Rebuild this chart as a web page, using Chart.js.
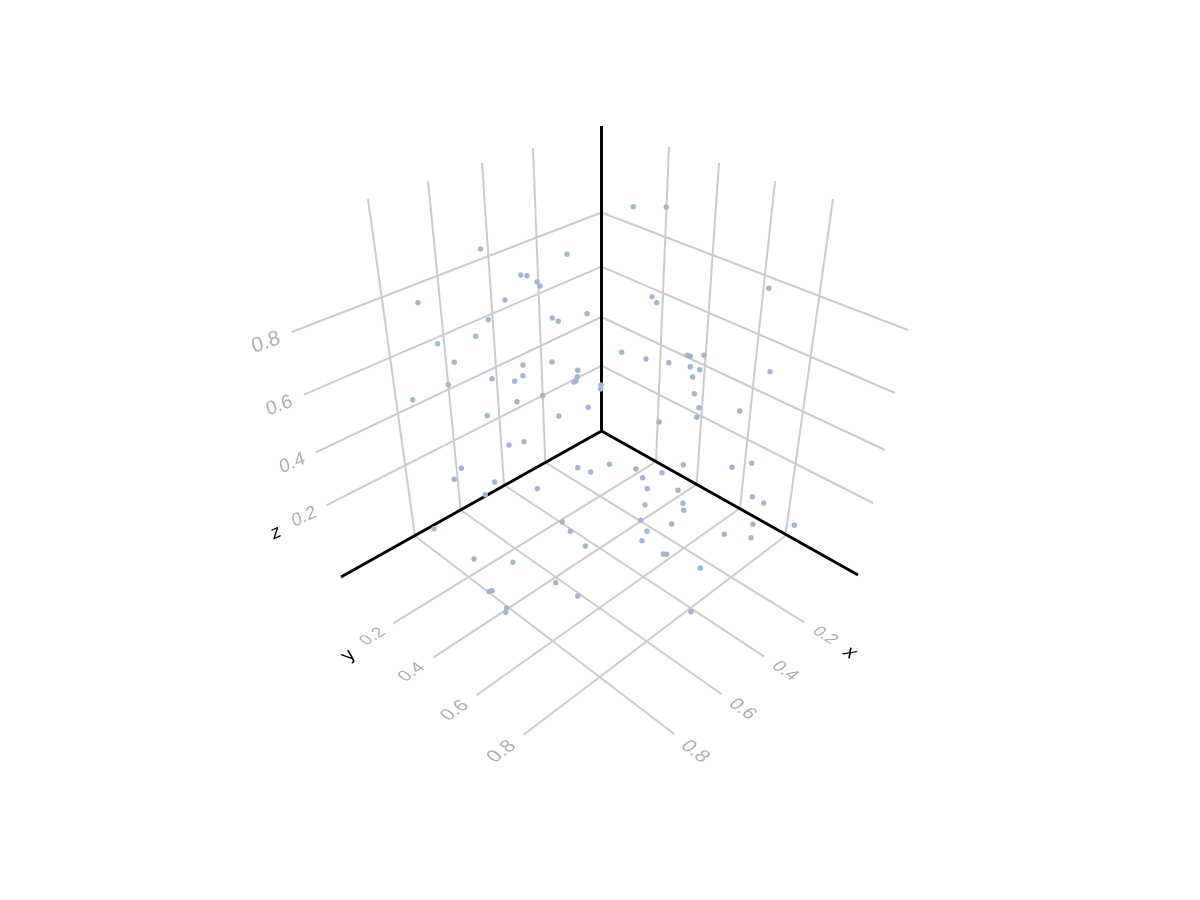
<!DOCTYPE html>
<html>
<head>
<meta charset="utf-8">
<title>3D scatter</title>
<script src="https://cdn.jsdelivr.net/npm/chart.js@4"></script>
<style>
    html, body { margin: 0; padding: 0; background: #fff; }
    canvas { display: block; }
</style>
</head>
<body>
<canvas id="chart" width="1200" height="900"></canvas>
<script>
// values, in the projected plane of the 3D view
var pointX = [480.7, 567, 520.7, 527, 537, 540, 418, 505, 488.3, 552.3, 558.3, 587, 475.7, 437.7, 454.3, 523, 552, 523, 514.7, 492,
    448.3, 577.7, 577.3, 576, 574, 601, 600.7, 542.7, 412.7, 517, 588.3, 487.3, 559, 524, 509,
    633.3, 666.3, 768.7, 652, 656.7, 621.7, 646, 668.7, 687.3, 690.3, 704, 690.3, 699.7, 692.7, 770, 694.3, 699, 739.7, 696.7, 659,
    461.3, 454.3, 494.7, 485.3, 537.3, 577.7, 590.7, 609.5, 434, 562.3, 570.3, 585.3, 474, 513, 555.7, 577.7, 492, 489, 506.7, 505.7,
    636, 662, 683.3, 642.7, 647.3, 678, 732, 751.7, 752.3, 763.7, 645, 683, 683.7, 640.7, 671.7, 647, 642, 724.3, 753, 751, 794.3, 663.3, 666.7, 700.3, 691];
var pointY = [249, 254.3, 275, 275.7, 282, 286, 302.7, 300, 319.7, 318, 321.3, 313.7, 336.3, 343.7, 362.3, 365, 362, 375.7, 381.3, 378.7,
    384.7, 370.3, 376.7, 381, 382, 385, 389, 395.7, 399.7, 401.7, 407.3, 415.7, 416, 441.7, 445,
    206.7, 207.3, 288.3, 296.7, 302.7, 352.3, 359, 362.7, 355.3, 356.3, 355.3, 366.7, 369.7, 377, 371.7, 393.7, 407.7, 411, 417.3, 422,
    468.3, 479.3, 482, 494.7, 488.7, 467.7, 472, 464.3, 528.7, 522, 531.3, 546, 559, 562.3, 582.7, 596, 590.7, 591.7, 608, 612.3,
    469, 472.7, 464.7, 477.7, 488.7, 490.3, 467.3, 463.3, 496.7, 503, 504.7, 503.3, 510.3, 520.3, 524, 531.3, 540.7, 534.3, 524.3, 537.7, 525.3, 554, 554.3, 568, 611.7];

var tickLabels = ['0.2', '0.4', '0.6', '0.8'];

// axis lines: shared origin, then x, y, z ends
var originX = 601.5, originY = 431;
var axisEndX = [858, 341, 601.5];
var axisEndY = [575, 577, 126];

// one grid family per tick value 0.2 .. 0.8
var wallLeftFromX = [545.3, 504, 460.7, 415];
var wallLeftFromY = [462.3, 485, 510, 536];
var wallLeftToX = [533, 482, 428, 368];
var wallLeftToY = [148, 163, 181, 199];

var wallRightFromX = [656, 696.7, 740, 785.3];
var wallRightFromY = [461.7, 484.3, 508.3, 536];
var wallRightToX = [669, 719, 775, 833];
var wallRightToY = [147, 163, 181, 199];

var zLineFromY = [365.7, 317, 266.7, 212.5];
var zLineLeftX = [326.3, 315.7, 304, 291.7];
var zLineLeftY = [505.3, 452.3, 394.7, 332];
var zLineRightX = [873, 885, 895, 908];
var zLineRightY = [503, 450, 393, 330];

var floorXEndX = [804.3, 764.3, 721.3, 674.3];
var floorXEndY = [622.3, 656.7, 694, 734];
var floorYEndX = [393.3, 433.3, 476.7, 523.3];
var floorYEndY = [623.3, 657.7, 695, 735];

// helper to make a straight line dataset
function lineSet(x1, y1, x2, y2, color, width) {
    return {
        type: 'scatter',
        data: [{x: x1, y: y1}, {x: x2, y: y2}],
        showLine: true,
        borderColor: color,
        borderWidth: width,
        pointRadius: 0,
        borderCapStyle: 'butt',
        tension: 0
    };
}

var gridColor = '#cbcbcb';
var gridWidth = 2;
var axisColor = '#000000';
var axisWidth = 3;

var datasets = [];

// first dataset ends up on top in Chart.js
datasets.push({
    type: 'scatter',
    data: pointX.map(function (x, i) { return {x: x, y: pointY[i]}; }),
    backgroundColor: '#a0b6d1',
    borderWidth: 0,
    pointRadius: 2.7
});

axisEndX.forEach(function (x, i) {
    datasets.push(lineSet(originX, originY, x, axisEndY[i], axisColor, axisWidth));
});

tickLabels.forEach(function (t, i) {
    datasets.push(lineSet(wallLeftFromX[i], wallLeftFromY[i], wallLeftToX[i], wallLeftToY[i], gridColor, gridWidth));
    datasets.push(lineSet(wallRightFromX[i], wallRightFromY[i], wallRightToX[i], wallRightToY[i], gridColor, gridWidth));
    datasets.push(lineSet(originX, zLineFromY[i], zLineLeftX[i], zLineLeftY[i], gridColor, gridWidth));
    datasets.push(lineSet(originX, zLineFromY[i], zLineRightX[i], zLineRightY[i], gridColor, gridWidth));
    // floor lines start where the wall lines meet the axes
    datasets.push(lineSet(wallLeftFromX[i], wallLeftFromY[i], floorXEndX[i], floorXEndY[i], gridColor, gridWidth));
    datasets.push(lineSet(wallRightFromX[i], wallRightFromY[i], floorYEndX[i], floorYEndY[i], gridColor, gridWidth));
});

// labels lie in the plane of the walls and floor, so baseline and glyph-up get their own angle
var tickGray = '#aeaeae';
var labelSpots = [
    {text: tickLabels[0], x: 304, y: 517, base: -24, up: -106, size: 18.5, color: tickGray},
    {text: tickLabels[1], x: 292.3, y: 463.3, base: -22.5, up: -106, size: 19, color: tickGray},
    {text: tickLabels[2], x: 279.3, y: 405.7, base: -21, up: -106, size: 19.5, color: tickGray},
    {text: tickLabels[3], x: 266, y: 342.7, base: -19, up: -106, size: 21, color: tickGray},
    {text: 'z', x: 276, y: 532.7, base: -24, up: -106, size: 19, color: '#000000'},

    {text: tickLabels[0], x: 372.7, y: 636.7, base: -32, up: -142, size: 17, color: tickGray},
    {text: tickLabels[1], x: 411.7, y: 672.3, base: -34, up: -142, size: 18, color: tickGray},
    {text: tickLabels[2], x: 455, y: 710.7, base: -35.5, up: -142, size: 19, color: tickGray},
    {text: tickLabels[3], x: 501.7, y: 751.7, base: -37, up: -142, size: 20, color: tickGray},
    {text: 'y', x: 348.3, y: 655.5, base: -32, up: -142, size: 20, color: '#000000'},

    {text: tickLabels[0], x: 825, y: 635.7, base: 32, up: -38, size: 17, color: tickGray},
    {text: tickLabels[1], x: 785, y: 671, base: 34, up: -38, size: 18, color: tickGray},
    {text: tickLabels[2], x: 742.3, y: 709.3, base: 35.5, up: -38, size: 19, color: tickGray},
    {text: tickLabels[3], x: 695, y: 751.7, base: 37, up: -38, size: 20, color: tickGray},
    {text: 'x', x: 850, y: 652.7, base: 32, up: -38, size: 20, color: '#000000'}
];

var labelPlugin = {
    id: 'labelPlugin',
    afterDraw: function (chart) {
        var ctx = chart.ctx;
        var rad = Math.PI / 180;
        labelSpots.forEach(function (s) {
            ctx.save();
            ctx.translate(chart.scales.x.getPixelForValue(s.x), chart.scales.y.getPixelForValue(s.y));
            ctx.transform(Math.cos(s.base * rad), Math.sin(s.base * rad), -Math.cos(s.up * rad), -Math.sin(s.up * rad), 0, 0);
            ctx.font = s.size + 'px "Liberation Sans", Arial, sans-serif';
            ctx.fillStyle = s.color;
            ctx.textAlign = 'center';
            ctx.textBaseline = 'middle';
            ctx.fillText(s.text, 0, 0);
            ctx.restore();
        });
    }
};

new Chart(document.getElementById('chart').getContext('2d'), {
    type: 'scatter',
    data: {datasets: datasets},
    options: {
        responsive: false,
        animation: false,
        layout: {padding: 0, autoPadding: false},
        plugins: {
            legend: {display: false},
            title: {display: false},
            tooltip: {enabled: false}
        },
        scales: {
            x: {type: 'linear', min: 0, max: 1200, display: false},
            y: {type: 'linear', min: 0, max: 900, reverse: true, display: false}
        }
    },
    plugins: [labelPlugin]
});
</script>
</body>
</html>
